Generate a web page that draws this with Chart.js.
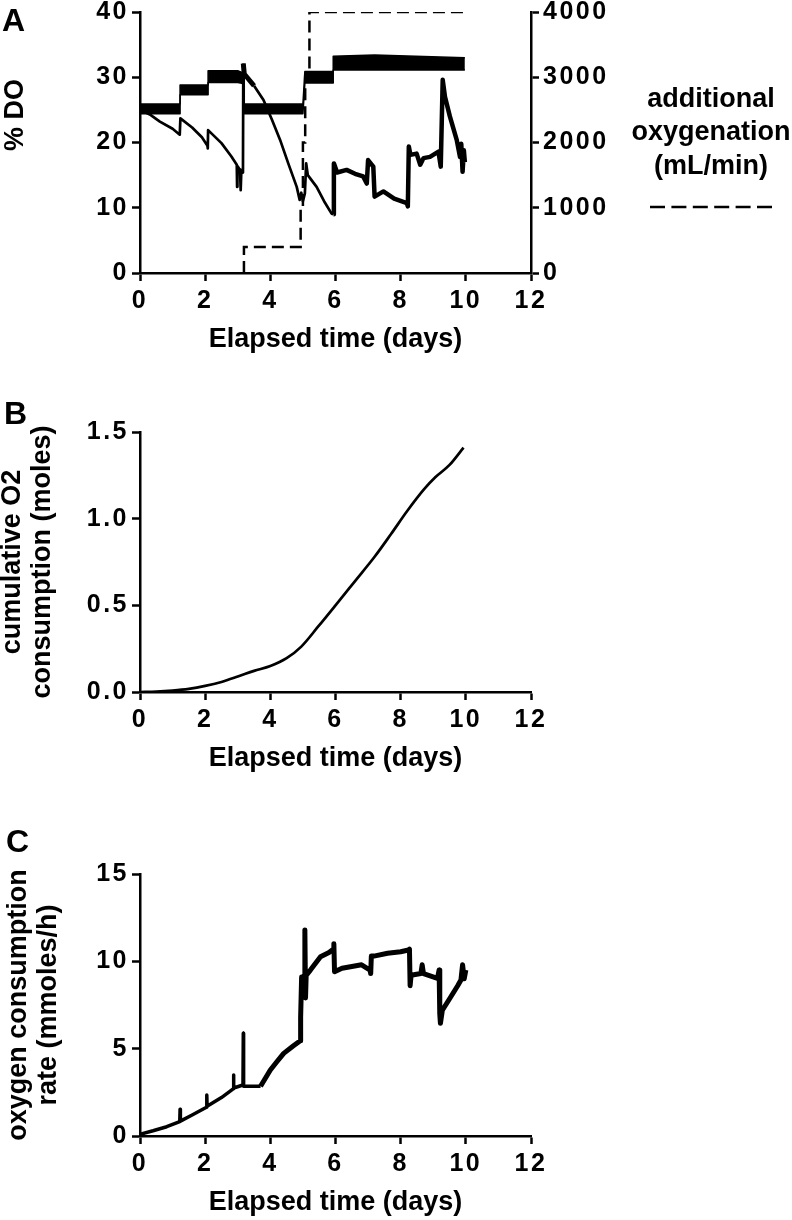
<!DOCTYPE html>
<html><head><meta charset="utf-8">
<script src="https://cdn.jsdelivr.net/npm/chart.js@4/dist/chart.umd.min.js"></script>
<style>
html,body{margin:0;padding:0;background:#fff;}
#wrap{position:relative;width:792px;height:1220px;overflow:hidden;background:#fff;}
canvas{position:absolute;left:0;}
</style></head><body>
<div id="wrap">
<canvas id="cA" width="792" height="370" style="top:0px"></canvas>
<canvas id="cB" width="792" height="410" style="top:380px"></canvas>
<canvas id="cC" width="792" height="420" style="top:800px"></canvas>
</div>
<script>
// ---------- data ----------
const xTicks = [0, 2, 4, 6, 8, 10, 12];
const xTitle = 'Elapsed time (days)';

// Panel A
const aDoTicks = [0, 10, 20, 30, 40];
const aO2Ticks = [0, 1000, 2000, 3000, 4000];
const aBandTime  = [0, 1.23, 1.23, 2.09, 2.09, 3.0, 3.2, 3.2, 5.0, 5.06, 5.93, 5.93, 7.2, 9.97];
const aBandUpper = [25.9, 25.9, 28.8, 28.8, 31.0, 31.0, 30.6, 25.9, 25.9, 30.9, 30.9, 33.2, 33.4, 33.0];
const aBandLower = [24.4, 24.4, 27.3, 27.3, 29.2, 29.2, 29.0, 24.4, 24.4, 29.1, 29.1, 31.1, 31.1, 31.1];
const aDoTime = [0, 0.3, 0.61, 1.0, 1.22, 1.24, 1.6, 1.9, 2.07, 2.08, 2.09, 2.5, 2.8, 2.97, 2.98, 2.99, 3.07, 3.09, 3.11, 3.16, 3.17, 3.2, 3.5, 3.79, 4.05, 4.3, 4.55, 4.81, 4.9, 4.95, 5.0, 5.06, 5.1, 5.15, 5.42, 5.65, 5.88, 5.94, 5.95, 6.05, 6.34, 6.6, 6.85, 6.96, 7.0, 7.16, 7.2, 7.47, 7.8, 8.19, 8.22, 8.25, 8.3, 8.49, 8.6, 8.7, 8.9, 9.16, 9.23, 9.29, 9.36, 9.51, 9.72, 9.82, 9.86, 9.9, 9.94, 9.97];
const aDoValue = [25.0, 24.3, 23.2, 22.1, 21.2, 23.7, 22.3, 20.8, 19.5, 19.1, 21.9, 19.9, 17.9, 16.6, 13.2, 16.4, 15.8, 12.7, 15.6, 15.4, 32.1, 30.5, 28.7, 26.5, 23.5, 20.4, 16.8, 13.2, 11.2, 12.3, 11.0, 12.2, 16.8, 15.0, 13.2, 11.0, 9.1, 9.0, 16.8, 15.4, 15.8, 15.2, 14.8, 13.7, 17.3, 16.3, 11.7, 12.5, 11.4, 10.7, 10.2, 19.4, 18.1, 18.3, 16.6, 17.6, 17.8, 18.6, 16.3, 29.6, 27.0, 24.0, 20.4, 17.8, 19.8, 15.5, 18.8, 17.0];
const aO2Time = [3.19, 3.19, 4.93, 4.93, 5.0, 5.0, 5.07, 5.07, 5.2, 5.2, 9.93];
const aO2Flow = [0, 400, 400, 1000, 1000, 2000, 2000, 3000, 3000, 4000, 4000];
const aYTitle = '% DO';
const aLegendLines = ['additional', 'oxygenation', '(mL/min)'];

// Panel B
const bTicks = [0, 0.5, 1.0, 1.5];
const bTickLabels = ['0.0', '0.5', '1.0', '1.5'];
const bTime = [0, 0.5, 1.0, 1.5, 2.0, 2.5, 3.0, 3.5, 4.0, 4.5, 4.95, 5.47, 6.0, 6.6, 7.2, 7.7, 8.2, 8.72, 9.07, 9.5, 9.93];
const bCum  = [0, 0.002, 0.008, 0.018, 0.035, 0.058, 0.089, 0.122, 0.15, 0.195, 0.262, 0.378, 0.5, 0.64, 0.78, 0.91, 1.044, 1.17, 1.24, 1.31, 1.41];
const bYTitle = ['cumulative O2', 'consumption (moles)'];

// Panel C
const cTicks = [0, 5, 10, 15];
const cTime = [0, 0.4, 0.82, 1.22, 1.23, 1.24, 1.6, 2.04, 2.05, 2.06, 2.5, 2.86, 2.87, 2.88, 3.16, 3.17, 3.18, 3.45, 3.7, 4.0, 4.2, 4.41, 4.7, 4.92, 4.93, 4.96, 5.0, 5.04, 5.06, 5.08, 5.1, 5.23, 5.54, 5.8, 5.94, 5.95, 5.97, 6.2, 6.46, 6.8, 7.06, 7.08, 7.1, 7.18, 7.6, 8.0, 8.24, 8.27, 8.29, 8.32, 8.62, 8.66, 8.7, 9.13, 9.18, 9.2, 9.22, 9.28, 9.54, 9.75, 9.85, 9.9, 9.95, 10.0];
const cRate = [0.1, 0.3, 0.53, 0.82, 1.53, 0.85, 1.2, 1.65, 2.35, 1.7, 2.2, 2.7, 3.49, 2.75, 2.92, 5.88, 2.85, 2.85, 2.85, 3.78, 4.25, 4.73, 5.15, 5.45, 6.8, 9.1, 9.0, 9.2, 11.8, 7.9, 9.2, 9.5, 10.26, 10.5, 10.7, 11.0, 9.4, 9.6, 9.69, 9.8, 9.5, 9.3, 10.3, 10.3, 10.46, 10.55, 10.65, 10.7, 8.6, 9.2, 9.3, 9.8, 9.3, 9.03, 9.5, 7.0, 6.45, 7.2, 7.97, 8.6, 8.93, 9.8, 9.0, 9.5];
const cYTitle = ['oxygen consumption', 'rate (mmoles/h)'];

// ---------- helpers ----------
const FONT = "'Liberation Sans', Arial, Helvetica, sans-serif";
const AXW = 2.5;
const pts = (xs, ys) => xs.map((x, i) => ({x: x, y: ys[i]}));
const tickFont = {family: FONT, size: 25, weight: 'bold', lineHeight: 1.2};
const titleFont = {family: FONT, size: 27, weight: 'bold', lineHeight: 1.2};
const gridOpts = {display: true, drawOnChartArea: false, drawTicks: true, tickLength: 8, tickWidth: AXW, tickColor: '#000'};
const borderOpts = {display: true, color: '#000', width: AXW};

// wider spacing for tick numerals only
const tickSpacing = {
  id: 'tickSpacing',
  beforeDraw(chart) {
    Object.values(chart.scales).forEach(s => {
      if (s._spPatched) return;
      const orig = s.drawLabels;
      s.drawLabels = function (area) {
        const ctx = this.ctx;
        ctx.save();
        ctx.letterSpacing = '2.5px';
        orig.call(this, area);
        ctx.restore();
      };
      s._spPatched = true;
    });
  }
};

function fixScale(w, h) {
  return function (s) {
    if (w != null) s.width = w;
    if (h != null) s.height = h;
    s.paddingLeft = 0; s.paddingRight = 0; s.paddingTop = 0; s.paddingBottom = 0;
  };
}
function setTicks(vals) {
  return function (s) { s.ticks = vals.map(v => ({value: v})); };
}
function xScale() {
  return {
    type: 'linear', position: 'bottom', min: 0, max: 12,
    afterBuildTicks: setTicks(xTicks),
    ticks: {color: '#000', font: tickFont, padding: 5, maxRotation: 0, autoSkip: false, callback: v => String(v)},
    grid: gridOpts, border: borderOpts,
    title: {display: true, text: xTitle, color: '#000', font: titleFont, padding: 0},
    afterFit: fixScale(null, 83.2)
  };
}
function yScale(min, max, ticks, labelFn, title, titlePad) {
  return {
    type: 'linear', position: 'left', min: min, max: max,
    afterBuildTicks: setTicks(ticks),
    ticks: {color: '#000', font: tickFont, padding: 3, callback: labelFn},
    grid: gridOpts, border: borderOpts,
    title: title ? {display: true, text: title, color: '#000', font: {family: FONT, size: 27, weight: 'bold', lineHeight: 1.12}, padding: {top: titlePad, bottom: 0}} : {display: false},
    afterFit: fixScale(140, null)
  };
}
function letterPlugin(letter, x, y) {
  return {
    id: 'letter' + letter,
    afterDraw(chart) {
      const ctx = chart.ctx;
      ctx.save();
      ctx.fillStyle = '#000';
      ctx.font = 'bold 32px ' + FONT;
      ctx.textAlign = 'left';
      ctx.textBaseline = 'alphabetic';
      ctx.fillText(letter, x, y);
      ctx.restore();
    }
  };
}
const baseOpts = {
  responsive: false, animation: false, devicePixelRatio: 1,
  plugins: {legend: {display: false}, tooltip: {enabled: false}},
  elements: {point: {radius: 0, hoverRadius: 0}, line: {tension: 0, borderJoinStyle: 'round', borderCapStyle: 'butt'}}
};

// ---------- Panel A ----------
const aExtras = {
  id: 'aExtras',
  afterDraw(chart) {
    const ctx = chart.ctx;
    ctx.save();
    ctx.fillStyle = '#000';
    ctx.font = 'bold 27px ' + FONT;
    ctx.translate(23, 115);
    ctx.rotate(-Math.PI / 2);
    ctx.textAlign = 'center';
    ctx.textBaseline = 'alphabetic';
    ctx.fillText(aYTitle, 0, 0);
    ctx.restore();
    ctx.save();
    ctx.fillStyle = '#000';
    ctx.font = 'bold 27px ' + FONT;
    ctx.textAlign = 'center';
    ctx.textBaseline = 'alphabetic';
    const base = [107, 140, 174];
    aLegendLines.forEach((t, i) => ctx.fillText(t, 711, base[i]));
    const ds = chart.data.datasets[3];
    ctx.strokeStyle = ds.borderColor;
    ctx.lineWidth = ds.borderWidth;
    ctx.setLineDash([15, 6.4]);
    ctx.beginPath();
    ctx.moveTo(650, 207);
    ctx.lineTo(772, 207);
    ctx.stroke();
    ctx.restore();
  }
};
const aThinWidth = c => {
  const x = c.p0.parsed.x;
  if (x >= 3.17 && x < 3.35) return 5;
  if (x >= 5.94) return 4.5;
  return 2.7;
};
new Chart(document.getElementById('cA'), {
  type: 'line',
  data: {
    datasets: [
      {label: '% DO (upper)', data: pts(aBandTime, aBandUpper), borderColor: '#000', borderWidth: 1.5, backgroundColor: '#000', fill: '+1', yAxisID: 'y'},
      {label: '% DO (lower)', data: pts(aBandTime, aBandLower), borderColor: '#000', borderWidth: 1.5, fill: false, yAxisID: 'y'},
      {label: '% DO', data: pts(aDoTime, aDoValue), borderColor: '#000', borderWidth: 2.7, fill: false, yAxisID: 'y', segment: {borderWidth: aThinWidth}},
      {label: 'additional oxygenation (mL/min)', data: pts(aO2Time, aO2Flow), borderColor: '#000', borderWidth: 2.5, borderDash: [12, 6], fill: false, yAxisID: 'y2', borderJoinStyle: 'miter'}
    ]
  },
  options: Object.assign({}, baseOpts, {
    layout: {padding: {top: 12, left: 0, right: 0, bottom: 13.8}},
    scales: {
      x: xScale(),
      y: yScale(0, 40, aDoTicks, v => String(v), null, 0),
      y2: {
        type: 'linear', position: 'right', min: 0, max: 4000,
        afterBuildTicks: setTicks(aO2Ticks),
        ticks: {color: '#000', font: tickFont, padding: 4, callback: v => String(v)},
        grid: gridOpts, border: borderOpts,
        afterFit: fixScale(261, null)
      }
    }
  }),
  plugins: [tickSpacing, aExtras, letterPlugin('A', 2, 31)]
});

// ---------- Panel B ----------
new Chart(document.getElementById('cB'), {
  type: 'line',
  data: {
    datasets: [
      {label: 'cumulative O2 consumption (moles)', data: pts(bTime, bCum), borderColor: '#000', borderWidth: 2.7, fill: false, cubicInterpolationMode: 'monotone'}
    ]
  },
  options: Object.assign({}, baseOpts, {
    layout: {padding: {top: 52, left: 0, right: 261, bottom: 14.8}},
    scales: {
      x: xScale(),
      y: yScale(0, 1.5, bTicks, (v, i) => bTickLabels[i], bYTitle, -3)
    }
  }),
  plugins: [tickSpacing, letterPlugin('B', 4, 424 - 380)]
});

// ---------- Panel C ----------
const cWidth = c => (c.p0.parsed.x >= 3.6 ? 5 : 3.5);
new Chart(document.getElementById('cC'), {
  type: 'line',
  data: {
    datasets: [
      {label: 'oxygen consumption rate (mmoles/h)', data: pts(cTime, cRate), borderColor: '#000', borderWidth: 3.5, fill: false, segment: {borderWidth: cWidth}}
    ]
  },
  options: Object.assign({}, baseOpts, {
    layout: {padding: {top: 74, left: 0, right: 261, bottom: 0.8}},
    scales: {
      x: xScale(),
      y: yScale(0, 15, cTicks, v => String(v), cYTitle, 3)
    }
  }),
  plugins: [tickSpacing, letterPlugin('C', 6, 852 - 800)]
});
</script>
</body></html>
